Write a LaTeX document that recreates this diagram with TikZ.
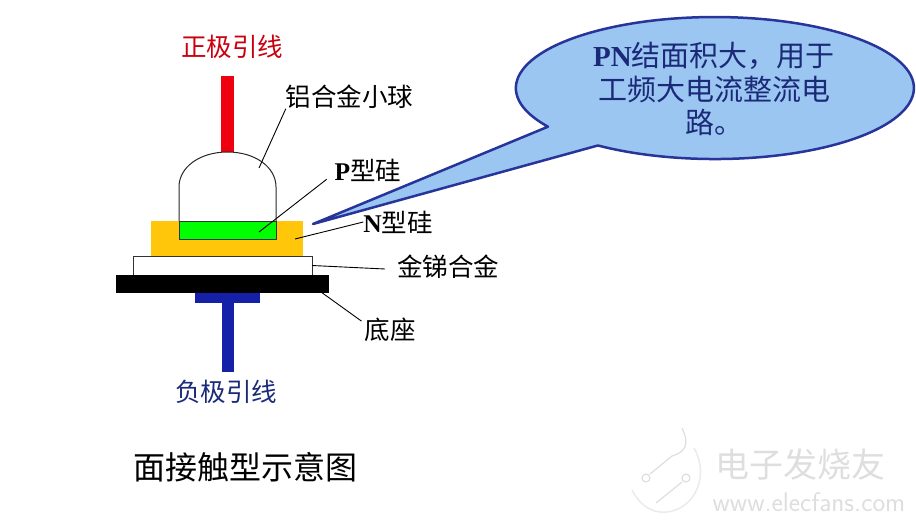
\documentclass[tikz,border=0pt]{standalone}
\usepackage{fontspec}
\setmainfont{Liberation Serif}
\newfontfamily\cjk{Noto Sans CJK SC}
\usetikzlibrary{positioning}
\definecolor{calloutfill}{HTML}{9CC6F2}
\definecolor{calloutedge}{HTML}{27349A}
\definecolor{layeryellow}{HTML}{FFC60A}
\definecolor{leadred}{HTML}{EE0010}
\definecolor{leadblue}{HTML}{1420A8}
\definecolor{labelblue}{HTML}{1A2A78}
\definecolor{marktext}{HTML}{DEDEDE}
\newcommand{\latinb}[1]{{\rmfamily\bfseries #1}}
\tikzset{
  layer/.style={draw=none, rectangle, inner sep=0pt, outer sep=0pt},
  callname/.style={inner sep=0pt, outer sep=0pt, font=\cjk\fontsize{25.5}{28}\selectfont},
  leader/.style={draw=black, line width=0.9pt}
}
\begin{document}
\begin{tikzpicture}[x=1pt, y=-1pt]
  \useasboundingbox (0,0) rectangle (916,522);

  % watermark
  \draw[marktext, line width=1.2pt] (682,428) .. controls (690,445) and (685,452) .. (672,456) -- (650,474);
  \draw[marktext, line width=1.2pt] (682,482) -- (656,503);
  \node[draw=marktext, circle, line width=1.2pt, minimum size=8pt, inner sep=0pt] (markleft) at (646,478) {};
  \node[draw=marktext, circle, line width=1.2pt, minimum size=8pt, inner sep=0pt] (markright) at (686,478) {};
  \draw[marktext!60, line width=1.5pt] (694,448) .. controls (712,480) and (690,515) .. (660,512) .. controls (648,511) and (638,502) .. (632,490);
  \node[inner sep=0pt, text=marktext, font=\cjk\fontsize{34}{38}\selectfont] (markname) at (800,465) {电子发烧友};
  \node[inner sep=0pt, text=marktext, font=\sffamily\fontsize{27}{30}\selectfont] (markweb) at (809,502) {www.elecfans.com};

  % leads
  \node[layer, fill=leadred, minimum width=13pt, minimum height=76pt] (redlead) at (227.5,114) {};
  \node[layer, fill=leadblue, minimum width=12pt, minimum height=72pt] (bluelead) at (228,336) {};
  \node[layer, fill=leadblue, minimum width=65pt, minimum height=12pt] (bluefoot) at (227.5,297) {};

  % chip layers
  \node[layer, fill=layeryellow, minimum width=152pt, minimum height=35pt] (nsilicon) at (227,238.5) {};
  \node[layer, draw=black!80, line width=0.9pt, fill=white, minimum width=179pt, minimum height=19pt] (goldlayer) at (222.5,265.5) {};
  \node[layer, fill=black, minimum width=213pt, minimum height=18pt] (basepad) at (222.5,283.5) {};
  \node[layer, draw=black!80, line width=0.9pt, fill=green, minimum width=97pt, minimum height=18pt] (psilicon) at (227.5,230) {};
  \draw[black!85, line width=1pt] (psilicon.north west) -- (179,187) .. controls (179,167) and (200,152) .. (227.5,152) .. controls (255,152) and (276,167) .. (276,187) -- (psilicon.north east);

  % callout
  \draw[calloutedge, line width=2.5pt, fill=calloutfill, line join=round] (548,126.7)
    arc[start angle=213, end angle=-126, x radius=199pt, y radius=71pt] -- (313,224) -- cycle;
  \node[inner sep=0pt, align=center, text=labelblue, font=\fontsize{29}{33.5}\selectfont\bfseries] (callouttext) at (714,89)
    {PN{\cjk\mdseries 结面积大，用于}\\{\cjk\mdseries 工频大电流整流电}\\{\cjk\mdseries 路。}};

  % labels
  \node[callname, text=leadred!85!black] (poslabel) at (232,47) {正极引线};
  \node[callname, text=labelblue] (neglabel) at (226,392) {负极引线};
  \node[callname] (balllabel) at (349.5,97) {铝合金小球};
  \node[callname] (plabel) at (368,170) {\latinb{P}型硅};
  \node[callname] (nlabel) at (398,222) {\latinb{N}型硅};
  \node[callname] (goldlabel) at (448,267) {金锑合金};
  \node[callname] (baselabel) at (390,330) {底座};
  \node[inner sep=0pt, font=\cjk\fontsize{32}{36}\selectfont] (titlelabel) at (245.5,467) {面接触型示意图};

  \coordinate (ballend) at (259,168);
  \coordinate (pend) at (259,232);
  \coordinate (nend) at (295,239);
  \coordinate (baseend) at (321,292);

  \draw[leader] (balllabel.south west) -- (ballend);
  \draw[leader] ([xshift=-8pt,yshift=2pt]plabel.south west) -- (pend);
  \draw[leader] (nlabel.west) -- (nend);
  \draw[leader] (goldlabel.west) ++(-12pt,-2pt) -- (goldlayer.east);
  \draw[leader] (baselabel.north west) ++(-3pt,-3pt) -- (baseend);
\end{tikzpicture}
\end{document}
